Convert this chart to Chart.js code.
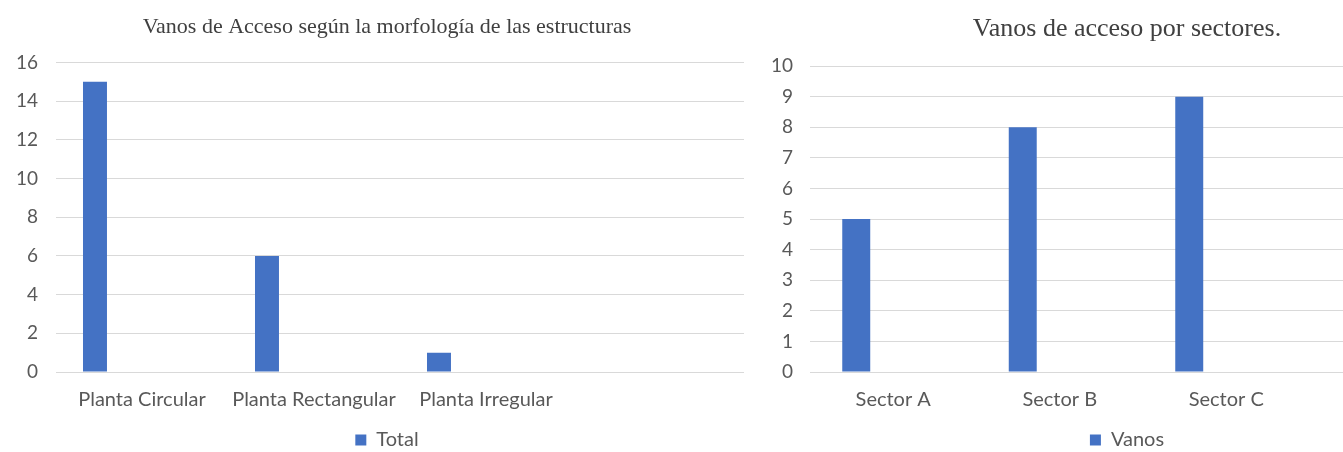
<!DOCTYPE html>
<html>
<head>
<meta charset="utf-8">
<script src="https://cdn.jsdelivr.net/npm/chart.js@4"></script>
<style>
  html, body { margin:0; padding:0; background:#fff; overflow:hidden; width:1343px; height:452px; }
  canvas { position:absolute; top:0; }
  #c1 { left:0; }
  #c2 { left:770px; }
</style>
</head>
<body>
<canvas id="c1" width="776" height="460"></canvas>
<canvas id="c2" width="716" height="460"></canvas>
<script>
// ---- data ----
const leftTitle = 'Vanos de Acceso según la morfología de las estructuras';
const leftCategories = ['Planta Circular', 'Planta Rectangular', 'Planta Irregular', ''];
const leftSeriesName = 'Total';
const leftValues = [15, 6, 1, null];
const leftYTicks = [0, 2, 4, 6, 8, 10, 12, 14, 16];

const rightTitle = 'Vanos de acceso por sectores.';
const rightCategories = ['Sector A', 'Sector B', 'Sector C', ''];
const rightSeriesName = 'Vanos';
const rightValues = [5, 8, 9, null];
const rightYTicks = [0, 1, 2, 3, 4, 5, 6, 7, 8, 9, 10];

// ---- styles ----
const BLUE = '#4472C4';
const GRID = '#d9d9d9';
const TXT = '#595959';
const SANS = 'Lato, "Open Sans", sans-serif';
const SERIF = '"Liberation Serif", "DejaVu Serif", serif';
const Y_FONT_SIZE = 19;

function emptySeries(n) { return n.map(() => null); }

function widestLabel(labels) {
  const ctx = document.createElement('canvas').getContext('2d');
  ctx.font = 'normal ' + Y_FONT_SIZE + 'px ' + SANS;
  return Math.max(...labels.map(l => ctx.measureText(String(l)).width));
}

function makeChart(id, cfg) {
  const datasets = [{
    label: cfg.seriesName, data: cfg.values, backgroundColor: BLUE,
    barPercentage: cfg.barPct, categoryPercentage: cfg.catPct
  }];
  for (let i = 1; i < cfg.groupSlots; i++) {
    datasets.push({ label: '', data: emptySeries(cfg.values), backgroundColor: BLUE,
      barPercentage: cfg.barPct, categoryPercentage: cfg.catPct });
  }
  const widest = widestLabel(cfg.yTicks);
  return new Chart(document.getElementById(id), {
    type: 'bar',
    data: { labels: cfg.categories, datasets },
    options: {
      responsive: false,
      animation: false,
      layout: { padding: { left: cfg.padLeft, right: cfg.padRight, top: 0, bottom: 0 } },
      plugins: {
        title: {
          display: true, text: cfg.title, color: '#404040',
          font: { family: SERIF, size: cfg.titleSize, weight: 'normal' },
          padding: { top: cfg.titleTop, bottom: cfg.titleBottom }
        },
        legend: {
          position: 'bottom',
          labels: {
            color: TXT, boxWidth: 11, boxHeight: 11, padding: 3,
            font: { family: SANS, size: 20 },
            filter: (item) => item.datasetIndex === 0
          }
        },
        tooltip: { enabled: false }
      },
      scales: {
        x: {
          grid: { display: false, drawTicks: false },
          border: { display: false },
          ticks: { color: TXT, font: { family: SANS, size: 20 }, padding: 16, maxRotation: 0, autoSkip: false },
          afterFit: (s) => { s.height = 55; }
        },
        y: {
          min: cfg.yTicks[0], max: cfg.yTicks[cfg.yTicks.length - 1],
          afterBuildTicks: (s) => { s.ticks = cfg.yTicks.map(v => ({ value: v })); },
          grid: { color: GRID, lineWidth: 1, drawTicks: false },
          border: { display: false },
          ticks: { color: TXT, font: { family: SANS, size: Y_FONT_SIZE },
                   mirror: true, crossAlign: 'far', padding: -(cfg.yGap + widest) },
          afterFit: (s) => { s.width = cfg.yWidth; }
        }
      }
    }
  });
}

makeChart('c1', {
  title: leftTitle, categories: leftCategories, seriesName: leftSeriesName, values: leftValues,
  yTicks: leftYTicks, groupSlots: 3, catPct: 0.82, barPct: 0.51,
  padLeft: 30, padRight: 32, yWidth: 26, yGap: 18, titleSize: 22, titleTop: 14, titleBottom: 22
});
makeChart('c2', {
  title: rightTitle, categories: rightCategories, seriesName: rightSeriesName, values: rightValues,
  yTicks: rightYTicks, groupSlots: 2, catPct: 0.889, barPct: 0.378,
  padLeft: 8, padRight: 10, yWidth: 32, yGap: 17, titleSize: 26, titleTop: 14, titleBottom: 21
});
</script>
</body>
</html>
